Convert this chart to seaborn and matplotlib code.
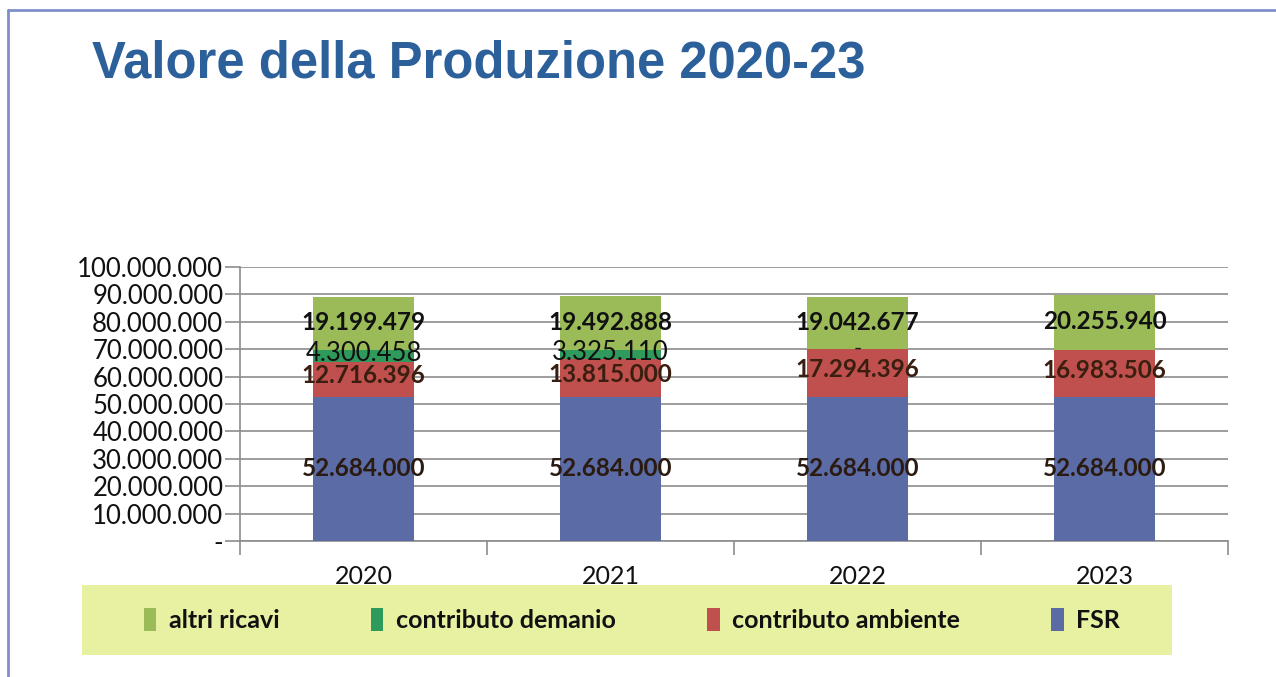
import matplotlib
matplotlib.use("Agg")
import matplotlib.pyplot as plt
import matplotlib.patches as mpatches
import matplotlib.ticker as mticker
import seaborn as sns
import pandas as pd
import numpy as np

years = ["2020", "2021", "2022", "2023"]
fsr = [52684000, 52684000, 52684000, 52684000]
contributo_ambiente = [12716396, 13815000, 17294396, 16983506]
contributo_demanio = [4300458, 3325110, 0, 0]
altri_ricavi = [19199479, 19492888, 19042677, 20255940]

series_names = ["FSR", "contributo ambiente", "contributo demanio", "altri ricavi"]
series_values = [fsr, contributo_ambiente, contributo_demanio, altri_ricavi]
colors = {"FSR": "#5B6BA5", "contributo ambiente": "#C0504D",
          "contributo demanio": "#2E9A5B", "altri ricavi": "#9BBB59"}

sns.set_theme(style="white")
plt.rcParams["font.family"] = ["Lato", "DejaVu Sans"]

fig = plt.figure(figsize=(12.76, 6.77), dpi=100)
ax = fig.add_axes([240/1276, 1-541/677, (1228-240)/1276, (541-267)/677])

cum = np.cumsum(np.array(series_values, dtype=float), axis=0)
# draw from top cumulative down so each visible portion is one segment
for i in range(len(series_names)-1, -1, -1):
    df = pd.DataFrame({"year": years, "value": cum[i]})
    sns.barplot(data=df, x="year", y="value", color=colors[series_names[i]],
                width=0.405, ax=ax, saturation=1, zorder=3,
                edgecolor="none", linewidth=0)

def it_fmt(v):
    return f"{int(round(v)):,}".replace(",", ".")

# data labels
for i, name in enumerate(series_names):
    for j in range(len(years)):
        val = series_values[i][j]
        base = cum[i][j] - val
        yc = base + val/2
        if name == "contributo demanio":
            if val == 0:
                if j == 2:
                    ax.text(j, cum[i][j] + 0.3e6, "-", ha="center", va="center",
                            fontsize=16, color="#222222", zorder=5)
                continue
            ax.text(j, yc + 0.7e6, it_fmt(val), ha="center", va="center",
                    fontsize=18.5, color="#111111", zorder=5)
        else:
            color = "#3a1e10" if name == "contributo ambiente" else ("#2a1a10" if name == "FSR" else "#111111")
            off = 1.2e6 if name == "contributo ambiente" else (0.3e6 if name == "FSR" else 0.3e6)
            ax.text(j, yc + off, it_fmt(val), ha="center", va="center",
                    fontsize=17.5, fontweight="bold", color=color, zorder=5)

ax.set_ylim(0, 100000000)
ax.set_xlim(-0.5, 3.5)
ax.yaxis.set_major_locator(mticker.MultipleLocator(10000000))
ax.yaxis.set_major_formatter(mticker.FuncFormatter(lambda v, p: "-" if v == 0 else it_fmt(v)))
ax.grid(axis="y", color="#8c8c8c", linewidth=1.2, zorder=0)
ax.grid(axis="x", visible=False)
ax.set_xlabel("")
ax.set_ylabel("")
for s in ["top", "right"]:
    ax.spines[s].set_visible(False)
ax.spines["left"].set_color("#8c8c8c")
ax.spines["bottom"].set_color("#8c8c8c")
ax.spines["left"].set_linewidth(1.2)
ax.spines["bottom"].set_linewidth(1.2)

ax.tick_params(axis="y", length=11, width=1.2, color="#8c8c8c", labelsize=18.5,
               labelcolor="#111111", pad=1, left=True)
ax.set_xticks(np.arange(len(years)))
ax.set_xticklabels(years)
ax.tick_params(axis="x", length=0, labelsize=18, labelcolor="#111111", pad=17)
ax.set_xticks(np.arange(-0.5, len(years), 1.0), minor=True)
ax.tick_params(axis="x", which="minor", length=10, width=1.2, color="#8c8c8c", bottom=True)

# title
fig.text(92/1276, 1-78/677, "Valore della Produzione 2020-23", fontsize=36.5,
         fontweight="bold", color="#2B609A", family=["Liberation Sans", "DejaVu Sans"],
         ha="left", va="baseline")

# slide border lines
fig.add_artist(plt.Line2D([8/1276, 1.0], [1-10/677, 1-10/677], color="#7F8FCB", linewidth=2))
fig.add_artist(plt.Line2D([8/1276, 8/1276], [0, 1-10/677], color="#7F8FCB", linewidth=2))

# legend background
fig.add_artist(mpatches.Rectangle((82/1276, 1-655/677), (1172-82)/1276, 70/677,
                                  transform=fig.transFigure, facecolor="#E8F0A2",
                                  edgecolor="none", zorder=0))
leg_order = ["altri ricavi", "contributo demanio", "contributo ambiente", "FSR"]
handles = [mpatches.Patch(facecolor=colors[n], edgecolor="none", label=n) for n in leg_order]
leg = fig.legend(handles=handles, loc="center", bbox_to_anchor=(632/1276, 1-620/677),
                 ncol=4, frameon=False, handlelength=0.5, handleheight=1.0,
                 handletextpad=0.5, columnspacing=3.65,
                 prop={"size": 18, "weight": "bold"})
for t in leg.get_texts():
    t.set_color("#111111")

fig.savefig("out.png", dpi=100)
